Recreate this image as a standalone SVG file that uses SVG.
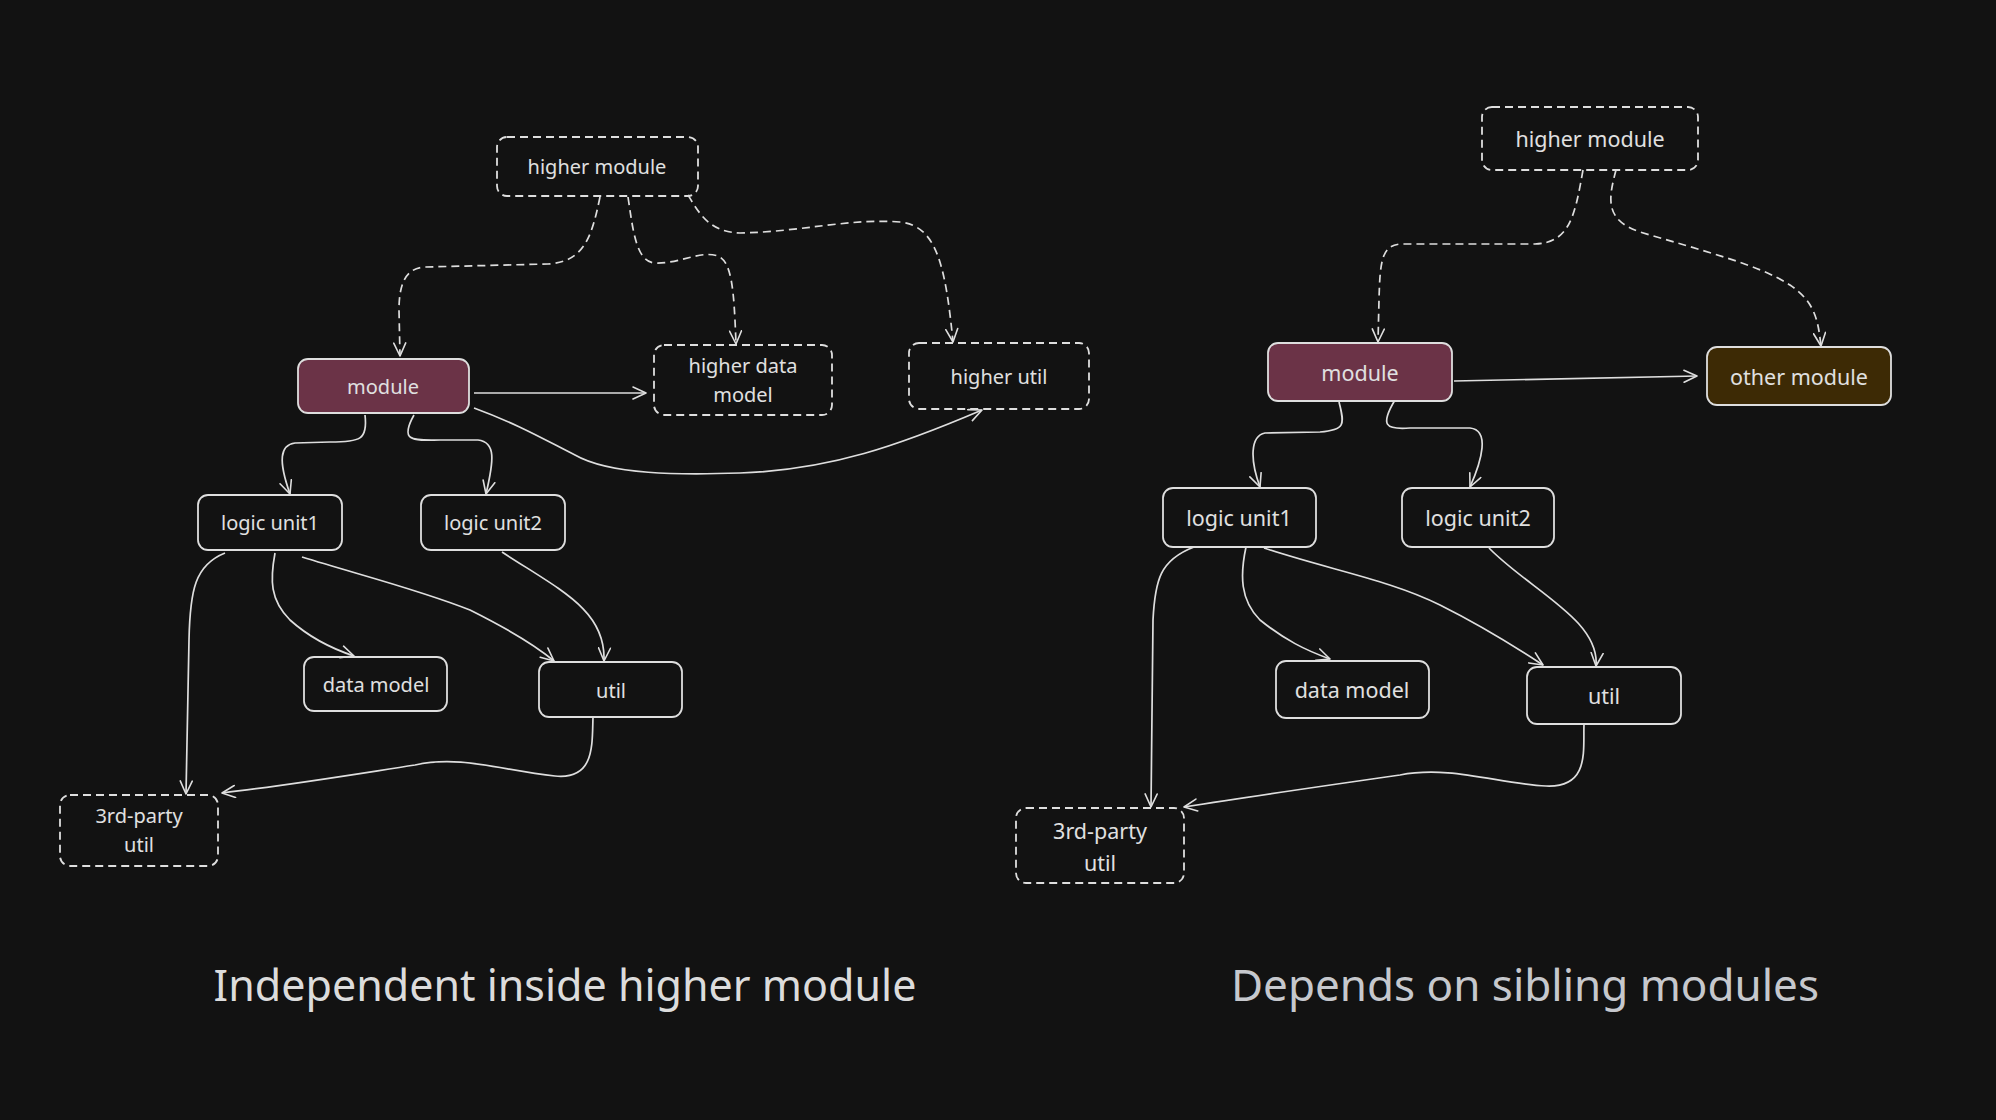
<svg xmlns="http://www.w3.org/2000/svg" width="1996" height="1120" viewBox="0 0 1996 1120">
<defs>
<marker id="arr" markerWidth="16" markerHeight="14" refX="0" refY="0" viewBox="-14 -7 16 14" orient="auto" markerUnits="userSpaceOnUse">
<path d="M-13,-6 L0,0 L-13,6" fill="none" stroke="#dedede" stroke-width="1.6" stroke-linecap="round" stroke-linejoin="round"/>
</marker>
<style>
.box{fill:none;stroke:#dedede;stroke-width:1.8}
.dash{stroke-dasharray:8 5}
.mod{fill:#6b3347}
.oth{fill:#3d2a05}
.t{font-family:"Noto Sans","Liberation Sans",sans-serif;font-size:20px;fill:#e0e0e0;text-anchor:middle;dominant-baseline:central}
.t2{font-size:21.5px}
.e{fill:none;stroke:#dedede;stroke-width:1.7;marker-end:url(#arr)}
.cap{font-family:"Noto Sans","Liberation Sans",sans-serif;font-size:44px;text-anchor:middle}
</style>
</defs>
<rect width="1996" height="1120" fill="#121212"/>

<g id="connectors">
<!-- left -->
<path class="e dash" d="M600,197 C592,235 585,262 548,264 L425,267 C405,268 399,285 399,310 L400,356"/>
<path class="e dash" d="M628,197 C633,230 636,262 655,263 C680,264 700,250 718,256 C732,262 734,290 736,344"/>
<path class="e dash" d="M688,195 C700,215 710,232 740,233 C800,232 850,218 900,222 C935,226 945,260 953,342"/>
<path class="e" d="M474,393 L646,393"/>
<path class="e" d="M474,408 C520,425 545,440 575,455 C610,475 680,475 740,473 C830,470 900,445 982,410"/>
<path class="e" d="M365,415 C368,440 360,442 330,442 L295,443 C280,445 278,460 290,494"/>
<path class="e" d="M414,415 C400,440 410,441 440,440 L478,440 C496,442 494,460 486,494"/>
<path class="e" d="M225,553 C195,565 190,590 189,640 L186,794"/>
<path class="e" d="M275,553 C270,580 270,600 290,620 C310,638 330,648 354,656"/>
<path class="e" d="M302,557 C360,575 420,590 470,610 C510,630 535,645 554,661"/>
<path class="e" d="M502,552 C560,590 606,610 604,661"/>
<path class="e" d="M593,717 C592,745 595,780 555,776 C500,770 460,755 415,765 C350,775 290,785 222,793"/>
<!-- right -->
<path class="e dash" d="M1583,170 C1575,215 1570,243 1535,244 L1400,244 C1382,246 1380,260 1379,300 L1378,342"/>
<path class="e dash" d="M1616,170 C1608,200 1605,220 1640,232 C1700,250 1760,265 1790,285 C1815,302 1818,320 1821,346"/>
<path class="e" d="M1454,381 L1697,376"/>
<path class="e" d="M1339,402 C1345,425 1345,430 1320,432 L1265,433 C1250,436 1250,460 1260,487"/>
<path class="e" d="M1395,400 C1380,425 1385,430 1410,428 L1470,428 C1490,430 1482,460 1470,487"/>
<path class="e" d="M1194,547 C1160,560 1155,580 1153,620 L1151,807"/>
<path class="e" d="M1246,547 C1240,575 1240,600 1260,620 C1285,640 1305,650 1330,659"/>
<path class="e" d="M1264,548 C1330,570 1390,580 1440,605 C1490,630 1520,650 1543,665"/>
<path class="e" d="M1489,548 C1530,590 1600,620 1596,666"/>
<path class="e" d="M1584,724 C1583,750 1590,788 1546,786 C1500,784 1450,765 1400,775 C1330,785 1260,795 1184,807"/>
</g>

<!-- left panel nodes -->
<g id="L-higher-module"><rect class="box dash" x="497" y="137" width="201" height="59" rx="10"/><text class="t" x="597" y="166">higher module</text></g>
<g id="L-module"><rect class="box mod" x="298" y="359" width="171" height="54" rx="10"/><text class="t" x="383" y="386">module</text></g>
<g id="L-higher-data-model"><rect class="box dash" x="654" y="345" width="178" height="70" rx="10"/><text class="t" x="743" y="365">higher data</text><text class="t" x="743" y="394">model</text></g>
<g id="L-higher-util"><rect class="box dash" x="909" y="343" width="180" height="66" rx="10"/><text class="t" x="999" y="376">higher util</text></g>
<g id="L-logic-unit1"><rect class="box" x="198" y="495" width="144" height="55" rx="10"/><text class="t" x="270" y="522">logic unit1</text></g>
<g id="L-logic-unit2"><rect class="box" x="421" y="495" width="144" height="55" rx="10"/><text class="t" x="493" y="522">logic unit2</text></g>
<g id="L-data-model"><rect class="box" x="304" y="657" width="143" height="54" rx="10"/><text class="t" x="376" y="684">data model</text></g>
<g id="L-util"><rect class="box" x="539" y="662" width="143" height="55" rx="10"/><text class="t" x="611" y="690">util</text></g>
<g id="L-3rd-party-util"><rect class="box dash" x="60" y="795" width="158" height="71" rx="10"/><text class="t" x="139" y="815">3rd-party</text><text class="t" x="139" y="844">util</text></g>

<!-- right panel nodes -->
<g id="R-higher-module"><rect class="box dash" x="1482" y="107" width="216" height="63" rx="10"/><text class="t t2" x="1590" y="138">higher module</text></g>
<g id="R-module"><rect class="box mod" x="1268" y="343" width="184" height="58" rx="10"/><text class="t t2" x="1360" y="372">module</text></g>
<g id="R-other-module"><rect class="box oth" x="1707" y="347" width="184" height="58" rx="10"/><text class="t t2" x="1799" y="376">other module</text></g>
<g id="R-logic-unit1"><rect class="box" x="1163" y="488" width="153" height="59" rx="10"/><text class="t t2" x="1239" y="517">logic unit1</text></g>
<g id="R-logic-unit2"><rect class="box" x="1402" y="488" width="152" height="59" rx="10"/><text class="t t2" x="1478" y="517">logic unit2</text></g>
<g id="R-data-model"><rect class="box" x="1276" y="661" width="153" height="57" rx="10"/><text class="t t2" x="1352" y="689">data model</text></g>
<g id="R-util"><rect class="box" x="1527" y="667" width="154" height="57" rx="10"/><text class="t t2" x="1604" y="695">util</text></g>
<g id="R-3rd-party-util"><rect class="box dash" x="1016" y="808" width="168" height="75" rx="10"/><text class="t t2" x="1100" y="830">3rd-party</text><text class="t t2" x="1100" y="862">util</text></g>

<text class="cap" x="565" y="1001" fill="#dcdcdc" font-size="43" style="font-size:43px">Independent inside higher module</text>
<text class="cap" x="1525" y="1001" fill="#c6c8cd">Depends on sibling modules</text>
</svg>
